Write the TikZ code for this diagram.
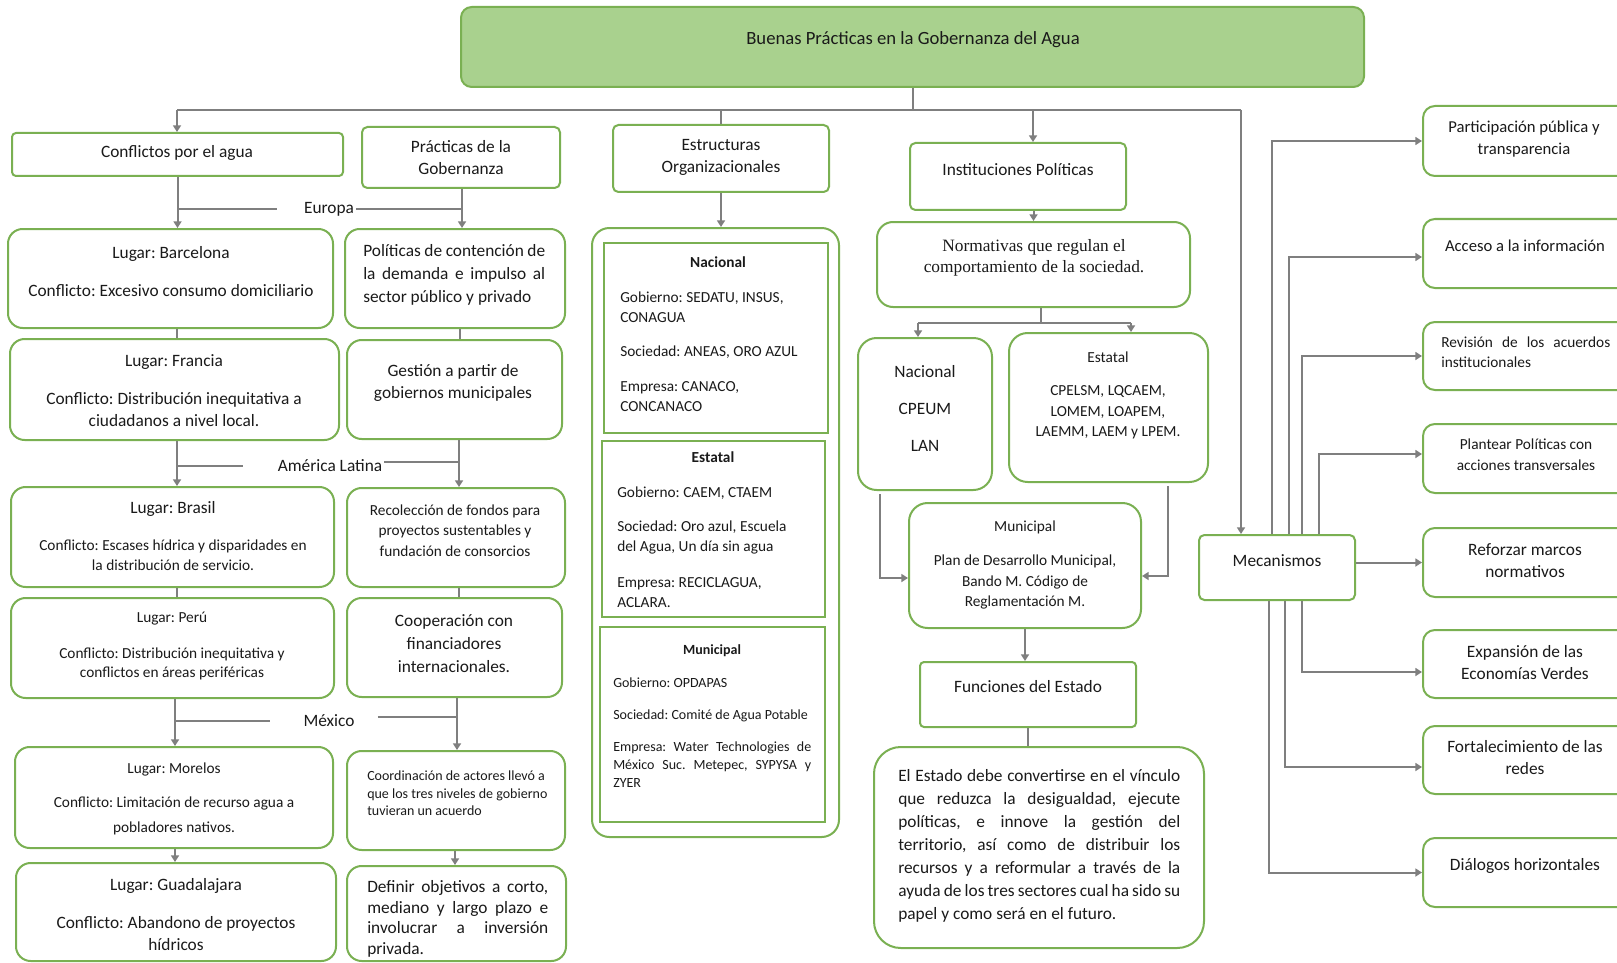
\documentclass[tikz,border=0pt]{standalone}
\usepackage{fontspec}
\setmainfont{Carlito}
\newfontfamily\timesf{Liberation Serif}
\usetikzlibrary{arrows.meta,fit,calc}
\definecolor{gb}{HTML}{7AB052}
\definecolor{tfill}{HTML}{A9D18E}
\definecolor{cg}{HTML}{7F7F7F}
\definecolor{tx}{HTML}{1A1A1A}
\newcommand\fs[2]{\fontsize{#1}{#2}\selectfont}
\newcommand\jline[2]{\makebox[#1][s]{#2}}
\frenchspacing
\begin{document}
\begin{tikzpicture}[x=0.75pt,y=-0.75pt,
  box/.style={draw=gb,line width=1.5pt,fill=white,inner sep=0pt},
  ibox/.style={draw=gb,line width=2.2pt,fill=white,inner sep=0pt},
  conn/.style={draw=cg,line width=1.5pt},
  arr/.style={conn,-{Triangle[length=5pt,width=6pt]}},
  t/.style={inner sep=0pt,text=tx,align=center},
  tl/.style={inner sep=0pt,text=tx,align=left,anchor=west}]

\useasboundingbox (0,0) rectangle (1617,963);
\fill[white] (0,0) rectangle (1617,963);
\clip (0,0) rectangle (1617,963);

% ---------- boxes ----------
\node[box,fill=tfill,rounded corners=8pt,fit={(461,7)(1364,87)}] (title) {};
% column 1
\node[box,rounded corners=3pt,fit={(12,133)(343,176)}] (conf) {};
\node[box,rounded corners=11pt,fit={(8,229)(333,328)}] (barc) {};
\node[box,rounded corners=11pt,fit={(10,339)(339,440)}] (fran) {};
\node[box,rounded corners=11pt,fit={(11,487)(334,587)}] (bras) {};
\node[box,rounded corners=11pt,fit={(11,598)(334,698)}] (peru) {};
\node[box,rounded corners=11pt,fit={(15,747)(333,848)}] (more) {};
\node[box,rounded corners=11pt,fit={(16,863)(336,961)}] (guad) {};
% column 2
\node[box,rounded corners=4pt,fit={(362,127)(560,188)}] (prac) {};
\node[box,rounded corners=11pt,fit={(345,229)(565,328)}] (pol) {};
\node[box,rounded corners=11pt,fit={(347,340)(562,439)}] (ges) {};
\node[box,rounded corners=11pt,fit={(347,488)(565,587)}] (rec) {};
\node[box,rounded corners=11pt,fit={(347,598)(562,697)}] (coop) {};
\node[box,rounded corners=11pt,fit={(347,751)(565,850)}] (coord) {};
\node[box,rounded corners=11pt,fit={(347,866)(566,961)}] (def) {};
% column 3
\node[box,rounded corners=4pt,fit={(613,125)(829,192)}] (estr) {};
\node[box,rounded corners=13pt,fit={(592,228)(839,837)}] (eout) {};
\node[ibox,fit={(604,243)(828,433)}] (enac) {};
\node[ibox,fit={(602,441)(825,617)}] (eest) {};
\node[ibox,fit={(600,627)(825,822)}] (emun) {};
% column 4
\node[box,rounded corners=4pt,fit={(910,143)(1126,210)}] (inst) {};
\node[box,rounded corners=12pt,fit={(877,222)(1190,307)}] (norm) {};
\node[box,rounded corners=14pt,fit={(858,338)(992,490)}] (inac) {};
\node[box,rounded corners=14pt,fit={(1009,333)(1208,482)}] (iest) {};
\node[box,rounded corners=14pt,fit={(909,503)(1141,628)}] (imun) {};
\node[box,rounded corners=3pt,fit={(920,662)(1136,727)}] (func) {};
\node[box,rounded corners=20pt,fit={(874,747)(1204,948)}] (edo) {};
% column 5
\node[box,rounded corners=4pt,fit={(1199,535)(1355,600)}] (mec) {};
\node[box,rounded corners=9pt,fit={(1423,106)(1645,176)}] (part) {};
\node[box,rounded corners=9pt,fit={(1423,219)(1645,288)}] (acc) {};
\node[box,rounded corners=9pt,fit={(1423,322)(1645,390)}] (rev) {};
\node[box,rounded corners=9pt,fit={(1423,424)(1645,493)}] (plan) {};
\node[box,rounded corners=9pt,fit={(1423,528)(1645,597)}] (ref) {};
\node[box,rounded corners=9pt,fit={(1423,630)(1645,698)}] (exp) {};
\node[box,rounded corners=9pt,fit={(1423,726)(1645,794)}] (fort) {};
\node[box,rounded corners=9pt,fit={(1423,838)(1645,907)}] (dia) {};

% ---------- texts ----------
\node[t,font=\fs{14}{17}] (title-t) at (913,40) {Buenas Prácticas en la Gobernanza del Agua};

\node[t,font=\fs{13}{16}] (conf-t) at (177,153) {Conflictos por el agua};
\node[t,font=\fs{13}{16.5}] (prac-t) at (461,158) {Prácticas de la\\Gobernanza};
\node[t,font=\fs{13}{16}] (barc-l) at (171,254) {Lugar: Barcelona};
\node[t,font=\fs{13}{16}] (barc-c) at (171,291) {Conflicto: Excesivo consumo domiciliario};
\node[t,font=\fs{13}{16}] (fran-l) at (174,362) {Lugar: Francia};
\node[t,font=\fs{13}{16.5}] (fran-c) at (174,410) {Conflicto: Distribución inequitativa a\\ciudadanos a nivel local.};
\node[t,font=\fs{13}{16}] (bras-l) at (173,509) {Lugar: Brasil};
\node[t,font=\fs{11.5}{15}] (bras-c) at (173,555) {Conflicto: Escases hídrica y disparidades en\\la distribución de servicio.};
\node[t,font=\fs{11.5}{15}] (peru-l) at (172,619) {Lugar: Perú};
\node[t,font=\fs{11.5}{14.25}] (peru-c) at (172,663.5) {Conflicto: Distribución inequitativa y\\conflictos en áreas periféricas};
\node[t,font=\fs{11.5}{15}] (more-l) at (174,769) {Lugar: Morelos};
\node[t,font=\fs{11.5}{18.75}] (more-c) at (174,815.5) {Conflicto: Limitación de recurso agua a\\pobladores nativos.};
\node[t,font=\fs{13}{16}] (guad-l) at (176,886) {Lugar: Guadalajara};
\node[t,font=\fs{13}{16.5}] (guad-c) at (176,934) {Conflicto: Abandono de proyectos\\hídricos};

\node[tl,font=\fs{13}{17.25}] (pol-t) at (363,275) {\jline{136.5pt}{Políticas de contención de}\\\jline{136.5pt}{la demanda e impulso al}\\sector público y privado};
\node[t,font=\fs{13}{16.5}] (ges-t) at (453,383) {Gestión a partir de\\gobiernos municipales};
\node[t,font=\fs{11.5}{15.4}] (rec-t) at (455,530.5) {Recolección de fondos para\\proyectos sustentables y\\fundación de consorcios};
\node[t,font=\fs{13}{17.25}] (coop-t) at (454,644) {Cooperación con\\financiadores\\internacionales.};
\node[tl,font=\fs{10.5}{13}] (coord-t) at (367,793.5) {Coordinación de actores llevó a\\que los tres niveles de gobierno\\tuvieran un acuerdo};
\node[tl,font=\fs{13}{15.5}] (def-t) at (367,919) {\jline{135.75pt}{Definir objetivos a corto,}\\\jline{135.75pt}{mediano y largo plazo e}\\\jline{135.75pt}{involucrar a inversión}\\privada.};

\node[t,font=\fs{13}{16.5}] (estr-t) at (721,157) {Estructuras\\Organizacionales};
\node[t,font=\fs{11.5}{15}\bfseries] (enac-h) at (718,262) {Nacional};
\node[tl,font=\fs{11.5}{15}] (enac-t) at (620,351.5) {Gobierno: SEDATU, INSUS,\\CONAGUA\\[10.5pt]Sociedad: ANEAS, ORO AZUL\\[11pt]Empresa: CANACO,\\CONCANACO};
\node[t,font=\fs{11.5}{15}\bfseries] (eest-h) at (713,457) {Estatal};
\node[tl,font=\fs{11.5}{15}] (eest-t) at (617,547.5) {Gobierno: CAEM, CTAEM\\[10.5pt]Sociedad: Oro azul, Escuela\\del Agua, Un día sin agua\\[12pt]Empresa: RECICLAGUA,\\ACLARA.};
\node[t,font=\fs{10.5}{13.5}\bfseries] (emun-h) at (712,651) {Municipal};
\node[tl,font=\fs{10.5}{13.5}] (emun-t) at (613,732.5) {Gobierno: OPDAPAS\\[10.5pt]Sociedad: Comité de Agua Potable\\[11pt]\jline{148.5pt}{Empresa: Water Technologies de}\\\jline{148.5pt}{México Suc. Metepec, SYPYSA y}\\ZYER};

\node[t,font=\fs{13}{16}] (inst-t) at (1018,170) {Instituciones Políticas};
\node[t,font=\timesf\fs{13}{15.75}] (norm-t) at (1034,257.5) {Normativas que regulan el\\comportamiento de la sociedad.};
\node[t,font=\fs{13}{28}] (inac-t) at (925,408.5) {Nacional\\CPEUM\\LAN};
\node[t,font=\fs{11.5}{15}] (iest-h) at (1108,357) {Estatal};
\node[t,font=\fs{11.5}{15.4}] (iest-t) at (1108,412.5) {CPELSM, LQCAEM,\\LOMEM, LOAPEM,\\LAEMM, LAEM y LPEM.};
\node[t,font=\fs{11.5}{15}] (imun-h) at (1025,527) {Municipal};
\node[t,font=\fs{11.5}{15.4}] (imun-t) at (1025,582) {Plan de Desarrollo Municipal,\\Bando M. Código de\\Reglamentación M.};
\node[t,font=\fs{13}{16}] (func-t) at (1028,687) {Funciones del Estado};
\node[tl,font=\fs{13}{17.2}] (edo-t) at (898,846) {\jline{211.5pt}{El Estado debe convertirse en el vínculo}\\\jline{211.5pt}{que reduzca la desigualdad, ejecute}\\\jline{211.5pt}{políticas, e innove la gestión del}\\\jline{211.5pt}{territorio, así como de distribuir los}\\\jline{211.5pt}{recursos y a reformular a través de la}\\\jline{211.5pt}{ayuda de los tres sectores cual ha sido su}\\papel y como será en el futuro.};

\node[t,font=\fs{13}{16}] (mec-t) at (1277,561) {Mecanismos};
\node[t,font=\fs{12.5}{16.5}] (part-t) at (1524,139.5) {Participación pública y\\transparencia};
\node[t,font=\fs{12.5}{16}] (acc-t) at (1525,246) {Acceso a la información};
\node[tl,font=\fs{11.5}{15}] (rev-t) at (1441,352) {\jline{126.75pt}{Revisión de los acuerdos}\\institucionales};
\node[t,font=\fs{11.5}{15.75}] (plan-t) at (1526,454.5) {Plantear Políticas con\\acciones transversales};
\node[t,font=\fs{13}{16.5}] (ref-t) at (1525,561) {Reforzar marcos\\normativos};
\node[t,font=\fs{13}{16}] (exp-t) at (1525,662.5) {Expansión de las\\Economías Verdes};
\node[t,font=\fs{13}{16.5}] (fort-t) at (1525,758) {Fortalecimiento de las\\redes};
\node[t,font=\fs{13}{16}] (dia-t) at (1525,866) {Diálogos horizontales};

% ---------- connectors ----------
\coordinate (busL) at (177,110);
\coordinate (busR) at (1241,110);
\coordinate (busI) at (1033,110);
\draw[conn] (title.south) -- (title.south |- busL);
\draw[conn] (busL) -- (busR);
\draw[arr] (busL) -- (busL |- conf.north);
\draw[conn] (estr.north |- busL) -- (estr.north);
\draw[arr] (busI) -- (busI |- inst.north);
\draw[arr] (busR) -- (busR |- mec.north);

% column 1
\coordinate (c1) at (177,0);
\coordinate (c1b) at (175,0);
\draw[arr] (conf.south) -- (barc.north -| conf.south);
\draw[conn] (barc.south -| c1) -- (fran.north -| c1);
\draw[arr] (fran.south -| c1) -- (bras.north -| c1);
\draw[conn] (bras.south -| c1) -- (peru.north -| c1);
\draw[arr] (peru.south -| c1b) -- (more.north -| c1b);
\draw[arr] (more.south -| c1b) -- (guad.north -| c1b);

% column 2
\coordinate (c2a) at (462,0);
\coordinate (c2b) at (460,0);
\coordinate (c2c) at (459,0);
\coordinate (c2d) at (457,0);
\coordinate (c2e) at (455,0);
\draw[arr] (prac.south -| c2a) -- (pol.north -| c2a);
\draw[conn] (pol.south -| c2b) -- (ges.north -| c2b);
\draw[arr] (ges.south -| c2c) -- (rec.north -| c2c);
\draw[conn] (rec.south -| c2c) -- (coop.north -| c2c);
\draw[arr] (coop.south -| c2d) -- (coord.north -| c2d);
\draw[arr] (coord.south -| c2e) -- (def.north -| c2e);

% region labels
\node[t,font=\fs{13}{16}] (eur) at (329,209) {Europa};
\draw[conn] (c1 |- eur) -- ($(eur.west)+(-27,0)$);
\draw[conn] ($(eur.east)+(2,0)$) -- (c2a |- eur);
\node[t,font=\fs{13}{16}] (amla) at (330,466) {América Latina};
\draw[conn] (c1 |- amla) -- ($(amla.west)+(-35,0)$);
\draw[conn] ($(amla.east)+(2,-4)$) -- ($(c2c |- amla)+(0,-4)$);
\node[t,font=\fs{13}{16}] (mex) at (329,721) {México};
\draw[conn] (c1b |- mex) -- ($(mex.west)+(-33,0)$);
\draw[conn] ($(mex.east)+(23,-4)$) -- ($(c2d |- mex)+(0,-4)$);

% column 3
\draw[arr] (estr.south) -- (estr.south |- eout.north);

% column 4
\coordinate (splL) at (918,323);
\coordinate (splR) at (1131,323);
\draw[arr] (inst.south -| norm.north) -- (norm.north);
\draw[conn] ($(norm.south)+(7,0)$) -- ($(norm.south)+(7,16)$);
\draw[conn] (splL) -- (splR);
\draw[arr] (splL) -- (splL |- inac.north);
\draw[arr] (splR) -- (splR |- iest.north);
\draw[arr] ($(inac.south)+(-45,3)$) |- ($(imun.west)+(0,12.5)$);
\draw[arr] ($(iest.south)+(59,3)$) |- ($(imun.east)+(0,10.5)$);
\draw[arr] (imun.south) -- (imun.south |- func.north);
\draw[conn] (func.south) -- (func.south |- edo.north);

% column 5
\draw[arr] ($(mec.north)+(-5,0)$) |- (part.west);
\draw[arr] ($(mec.north)+(12,0)$) |- ($(acc.west)+(0,3.5)$);
\draw[arr] ($(mec.north)+(25,0)$) |- (rev.west);
\draw[arr] ($(mec.north)+(42,0)$) |- ($(plan.west)+(0,-4.5)$);
\draw[arr] (mec.east |- ref.west) -- (ref.west);
\draw[arr] ($(mec.south)+(25,0)$) |- ($(exp.west)+(0,8)$);
\draw[arr] ($(mec.south)+(8,0)$) |- ($(fort.west)+(0,7)$);
\draw[arr] ($(mec.south)+(-8,0)$) |- (dia.west);
\end{tikzpicture}
\end{document}
